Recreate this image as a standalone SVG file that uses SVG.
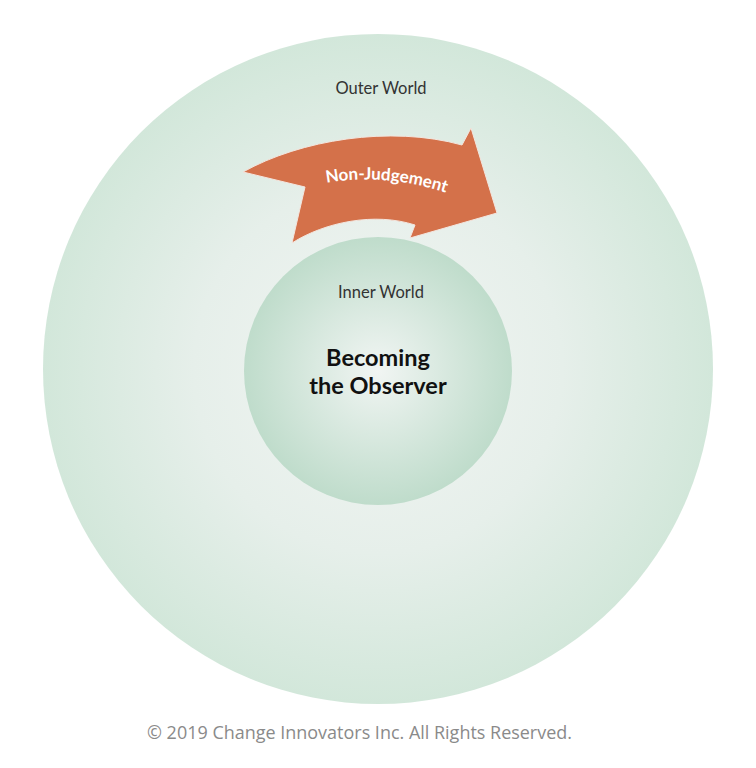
<svg xmlns="http://www.w3.org/2000/svg" width="756" height="768" viewBox="0 0 756 768">
<defs>
<radialGradient id="gOuter" cx="0.5" cy="0.5" r="0.5">
<stop offset="0" stop-color="#f2f5f3"/>
<stop offset="0.55" stop-color="#e6efea"/>
<stop offset="1" stop-color="#d2e7da"/>
</radialGradient>
<radialGradient id="gInner" cx="0.5" cy="0.5" r="0.5">
<stop offset="0" stop-color="#f1f5f3"/>
<stop offset="0.6" stop-color="#d3e6db"/>
<stop offset="1" stop-color="#bfdccb"/>
</radialGradient>
<path id="arcText" d="M 316 185 Q 383 170 456 196"/>
</defs>
<style>
.lbl{font-family:Lato,"Open Sans","Noto Sans",sans-serif;fill:#333;font-size:16.5px;text-anchor:middle}
.title{font-family:Lato,"Open Sans","Noto Sans",sans-serif;fill:#111;font-size:23.5px;font-weight:bold;text-anchor:middle}
.arrowTxt{font-family:Lato,"Open Sans","Noto Sans",sans-serif;fill:#fff;font-size:17px;font-weight:bold}
.copy{font-family:"Open Sans","Noto Sans",sans-serif;fill:#8a8a8a;font-size:17.5px}
</style>
<rect width="756" height="768" fill="#ffffff"/>
<g id="outer-world">
<circle cx="378" cy="369" r="335" fill="url(#gOuter)"/>
<text class="lbl" x="381" y="94">Outer World</text>
</g>
<g id="inner-world">
<circle cx="378" cy="371" r="134" fill="url(#gInner)"/>
<text class="lbl" x="381" y="298">Inner World</text>
<text class="title" x="378" y="366">Becoming</text>
<text class="title" x="378" y="394">the Observer</text>
</g>
<g id="connectors">
<g id="non-judgement">
<path d="M 243 172 C 300 140 390 125 462 145 L 471 128 L 497 213 L 410 238 L 415 225 C 375 212 325 222 292 243 L 305 187 Z" fill="#d4714a" stroke="#f3e6df" stroke-width="1"/>
<text class="arrowTxt"><textPath href="#arcText" startOffset="50%" text-anchor="middle">Non-Judgement</textPath></text>
</g>
</g>
<text class="copy" x="147" y="739" textLength="425" lengthAdjust="spacingAndGlyphs">© 2019 Change Innovators Inc. All Rights Reserved.</text>
</svg>
